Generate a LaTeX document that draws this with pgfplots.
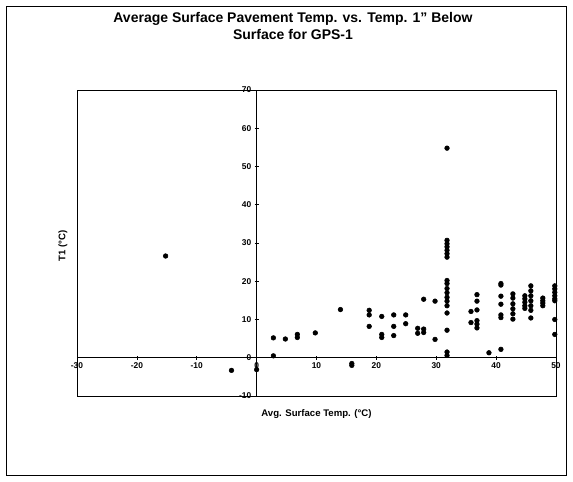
\documentclass[border=0pt]{standalone}
\usepackage{pgfplots}
\pgfplotsset{compat=1.18}
\usepackage{fontspec}
\setmainfont{Liberation Sans}
\begin{document}
\begin{tikzpicture}[x=0.75pt,y=0.75pt]
% picture frame in pixel units relative to axis lower-left (77,396)
\useasboundingbox (-77,396) rectangle (496,-85);
\draw[line width=0.6pt] (-71,390) rectangle (489,-79);
\node[font=\fontsize{10.5}{12.5}\selectfont\bfseries,align=center] at (216,370) {Average Surface Pavement Temp. vs. Temp. 1" Below\\Surface for GPS-1};
\begin{axis}[
  at={(0,0)}, anchor=south west,
  scale only axis,
  width=359.25pt, height=229.5pt,
  xmin=-30, xmax=50, ymin=-10, ymax=70,
  axis lines=middle,
  axis line style={-, line width=0.6pt},
  xtick={-30,-20,...,50}, ytick={-10,0,...,70},
  tick align=center,
  major tick length=3pt,
  tick style={line width=0.5pt, black},
  /pgf/number format/assume math mode=true,
  tick label style={font=\fontsize{6.3}{7}\selectfont\bfseries},
  xticklabel style={yshift=1pt},
  yticklabel style={xshift=1pt},
  hide obscured x ticks=false, hide obscured y ticks=false,
  clip=false,
]
\draw[line width=0.6pt] (rel axis cs:0,0) rectangle (rel axis cs:1,1);
\addplot[only marks, mark=*, mark size=1.75pt, black] coordinates {
(-15.2,26.6) (-4.2,-3.3) (0,-3.1) (2.8,5.2) (2.8,0.5) (4.8,4.9) (6.8,6.1) (6.8,5.3)
(9.8,6.5) (14.0,12.6) (15.9,-2.0) (15.9,-1.5)
(18.8,12.4) (18.8,11.2) (18.8,8.2)
(20.9,10.8) (20.9,6.1) (20.9,5.3)
(22.9,11.2) (22.9,8.2) (22.9,5.8)
(24.9,11.2) (24.9,8.9)
(26.9,7.7) (26.9,6.4)
(27.9,15.3) (27.9,7.5) (27.9,6.6)
(29.8,14.8) (29.8,4.8)
(31.8,54.8) (31.8,30.7) (31.8,29.8) (31.8,29.0) (31.8,28.1) (31.8,27.2) (31.8,26.3)
(31.8,20.2) (31.8,19.4) (31.8,18.1) (31.8,17.0) (31.8,15.8) (31.8,14.8) (31.8,13.6)
(31.8,11.7) (31.8,7.2) (31.8,1.5) (31.8,0.6)
(35.8,12.1) (35.8,9.2)
(36.8,16.5) (36.8,14.8) (36.8,12.5) (36.8,9.7) (36.8,8.8) (36.8,7.8)
(38.8,1.3)
(40.8,19.4) (40.8,19.0) (40.8,16.1) (40.8,14.0) (40.8,11.2) (40.8,10.5) (40.8,2.2)
(42.8,16.7) (42.8,15.6) (42.8,14.1) (42.8,12.8) (42.8,11.5) (42.8,10.1)
(44.8,16.2) (44.8,15.4) (44.8,14.5) (44.8,13.6) (44.8,12.9)
(45.8,18.8) (45.8,17.5) (45.8,16.2) (45.8,14.9) (45.8,13.6) (45.8,12.4) (45.8,10.4)
(47.8,15.6) (47.8,14.9) (47.8,14.3) (47.8,13.6)
(49.8,18.8) (49.8,18.0) (49.8,17.1) (49.8,16.2) (49.8,15.4) (49.8,14.9) (49.8,10.0) (49.8,6.1)
};
\end{axis}
\node[font=\fontsize{7.2}{8}\selectfont\bfseries] at (239.5,-18) {Avg. Surface Temp. (°C)};
\node[font=\fontsize{7.2}{8}\selectfont\bfseries,rotate=90] at (-14,150) {T1 (°C)};
\end{tikzpicture}
\end{document}
